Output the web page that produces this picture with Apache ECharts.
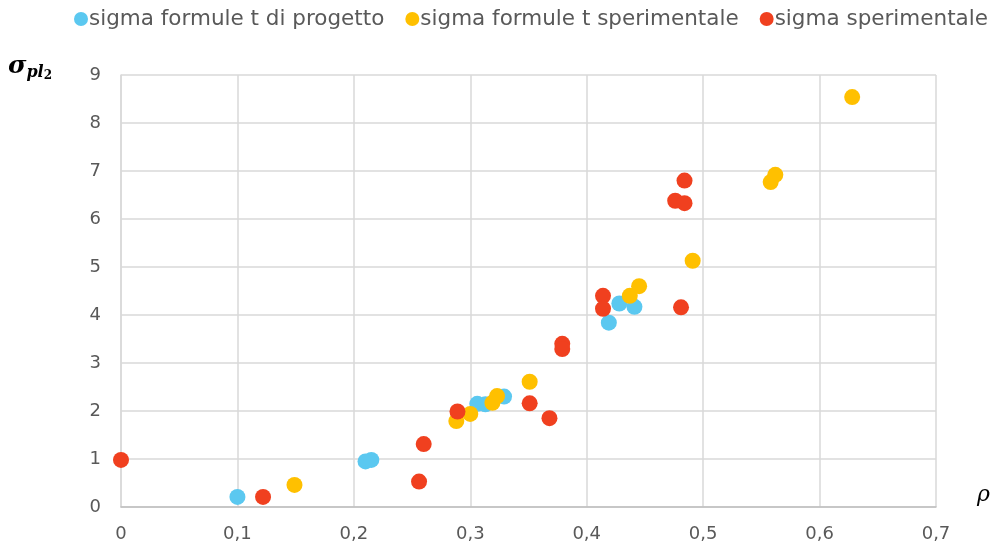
<!DOCTYPE html>
<html><head><meta charset="utf-8">
<script src="https://cdn.jsdelivr.net/npm/echarts@6/dist/echarts.min.js"></script>
<style>html,body{margin:0;padding:0;background:#fff}#c{width:996px;height:551px}</style>
</head><body><div id="c"></div>
<script>
const seriesNames = ['sigma formule t di progetto', 'sigma formule t sperimentale', 'sigma sperimentale'];
const progettoRho   = [0.100, 0.210, 0.215, 0.306, 0.313, 0.329, 0.419, 0.428, 0.441];
const progettoSigma = [0.21, 0.95, 0.98, 2.15, 2.14, 2.30, 3.84, 4.24, 4.17];
const sperFormRho   = [0.149, 0.288, 0.300, 0.319, 0.323, 0.351, 0.437, 0.445, 0.491, 0.558, 0.562, 0.628];
const sperFormSigma = [0.46, 1.79, 1.94, 2.17, 2.31, 2.61, 4.40, 4.60, 5.13, 6.77, 6.92, 8.54];
const sperRho   = [0.000, 0.122, 0.256, 0.260, 0.289, 0.351, 0.368, 0.379, 0.379, 0.414, 0.414, 0.481, 0.484, 0.476, 0.484];
const sperSigma = [0.98, 0.21, 0.53, 1.31, 1.99, 2.16, 1.85, 3.40, 3.29, 4.40, 4.13, 4.16, 6.80, 6.38, 6.33];
const xTicks = [0, 0.1, 0.2, 0.3, 0.4, 0.5, 0.6, 0.7];
const yTicks = [0, 1, 2, 3, 4, 5, 6, 7, 8, 9];

const colors = ['#5BC8F0', '#FFC000', '#F0401F'];
const pair = (xs, ys) => xs.map((x, i) => [x, ys[i]]);
const FONT = '"DejaVu Sans", sans-serif';

const chart = echarts.init(document.getElementById('c'));
chart.setOption({
  animation: false,
  color: colors,
  legend: {
    top: 8, left: 74, width: 922, padding: 0,
    itemGap: 21,
    itemWidth: 14, itemHeight: 14,
    icon: 'circle',
    textStyle: { color: '#595959', fontSize: 21.5, fontFamily: FONT, padding: [0, 0, 0, -4] },
    data: seriesNames
  },
  grid: { left: 121, right: 60, top: 75, bottom: 44, containLabel: false },
  xAxis: {
    type: 'value', min: xTicks[0], max: xTicks[xTicks.length - 1], interval: 0.1,
    axisLine: { show: true, lineStyle: { color: '#bfbfbf', width: 1.5 } },
    axisTick: { show: false },
    splitLine: { show: true, lineStyle: { color: '#d9d9d9', width: 1.5 } },
    axisLabel: { color: '#595959', fontSize: 18, fontFamily: FONT, margin: 18,
      formatter: v => String(Math.round(v * 10) / 10).replace('.', ',') }
  },
  yAxis: {
    type: 'value', min: yTicks[0], max: yTicks[yTicks.length - 1], interval: 1,
    axisLine: { show: true, lineStyle: { color: '#d9d9d9', width: 1.5 } },
    axisTick: { show: false },
    splitLine: { show: true, lineStyle: { color: '#d9d9d9', width: 1.5 } },
    axisLabel: { color: '#595959', fontSize: 18, fontFamily: FONT, margin: 20 }
  },
  graphic: [
    { type: 'text', left: 8, top: 54, style: {
        text: '{s|σ}{sub|pl}{sub2|2}',
        rich: {
          s: { fontFamily: '"DejaVu Serif", serif', fontStyle: 'italic', fontWeight: 'bold', fontSize: 25, fill: '#000' },
          sub: { fontFamily: '"DejaVu Serif", serif', fontStyle: 'italic', fontWeight: 'bold', fontSize: 16, fill: '#000', padding: [12, 0, 0, 0] },
          sub2: { fontFamily: '"DejaVu Serif", serif', fontWeight: 'bold', fontSize: 12, fill: '#000', padding: [18, 0, 0, 0] }
        } } },
    { type: 'text', left: 977, top: 484, style: {
        text: 'ρ', font: 'italic 22px "DejaVu Serif", serif', fill: '#000' } }
  ],
  series: [
    { name: seriesNames[0], type: 'scatter', symbolSize: 16, itemStyle: { opacity: 1 }, data: pair(progettoRho, progettoSigma), z: 3 },
    { name: seriesNames[1], type: 'scatter', symbolSize: 16, itemStyle: { opacity: 1 }, data: pair(sperFormRho, sperFormSigma), z: 4 },
    { name: seriesNames[2], type: 'scatter', symbolSize: 16, itemStyle: { opacity: 1 }, data: pair(sperRho, sperSigma), z: 5 }
  ]
});
</script></body></html>
